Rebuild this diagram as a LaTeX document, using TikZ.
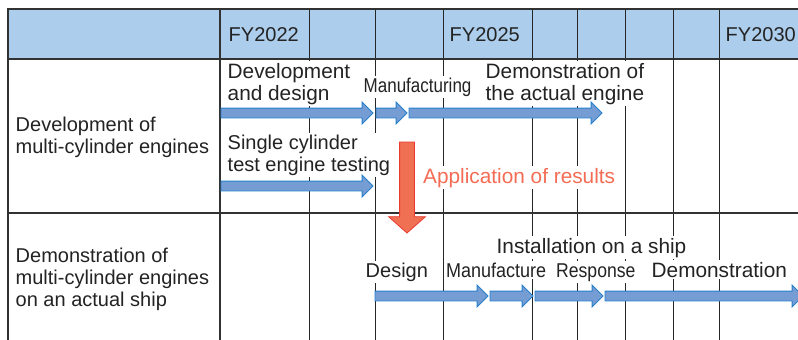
\documentclass[tikz,border=0pt]{standalone}
\usepackage{fontspec}
\setmainfont{Liberation Sans}
\usetikzlibrary{positioning}
\usetikzlibrary{shapes.arrows}

\definecolor{hdrblue}{RGB}{172,205,235}
\definecolor{barfill}{RGB}{118,157,211}
\definecolor{barline}{RGB}{38,128,204}
\definecolor{resfill}{RGB}{240,112,84}
\definecolor{resline}{RGB}{232,58,48}
\definecolor{restext}{RGB}{244,108,84}
\definecolor{txt}{RGB}{35,35,35}
\definecolor{framegray}{RGB}{50,50,50}

% squeezed lettering for the short task names
\newcommand{\narrow}[2][0.9]{\scalebox{#1}[1]{#2}}

\begin{document}
\begin{tikzpicture}[x=1pt,y=-1pt,
  frameline/.style={framegray, line width=1.8pt},
  gridline/.style={black!85, line width=0.9pt},
  year/.style={anchor=base west, inner sep=2pt, text=txt, font=\fontsize{20}{21.5}\selectfont},
  rowtitle/.style={anchor=base west, inner sep=2pt, text=txt, align=left, font=\fontsize{20}{22}\selectfont},
  task/.style={anchor=base west, inner sep=2pt, fill=white, text=txt, align=left, font=\fontsize{20}{21.5}\selectfont},
  bigtask/.style={task, font=\fontsize{20.8}{21.5}\selectfont},
  bar/.style={single arrow, anchor=tail, draw=barline, fill=barfill, line width=0.8pt,
    inner xsep=0pt, inner ysep=4.5pt, outer sep=0pt, single arrow head extend=6pt},
  resarrow/.style={single arrow, anchor=tail, draw=resline, fill=resfill, line width=0.8pt,
    inner xsep=0pt, inner ysep=7pt, outer sep=0pt, single arrow head extend=11pt,
    single arrow tip angle=97},
]
\useasboundingbox (0,0) rectangle (798,340);
\clip (0,0) rectangle (798,340);
\fill[white] (0,0) rectangle (798,340);

% header band
\fill[hdrblue] (8,9) rectangle (798,59);

% year columns
\foreach \x in {309,375.5,443,532,577,625,673,719}
  \draw[gridline] (\x,9) -- (\x,340);

% table frame
\draw[frameline] (8,340) -- (8,9) -- (798,9);
\draw[frameline] (8,59) -- (798,59);
\draw[frameline] (8,213) -- (798,213);
\draw[frameline] (220,9) -- (220,340);

% years
\node[year] (fy22) at (226.5,41) {FY2022};
\node[year] (fy25) at (447.5,41) {FY2025};
\node[year] (fy30) at (723.5,41) {FY2030};

% row titles (base = last line)
\node[rowtitle] (rowdev) at (13.5,153) {Development of\\multi-cylinder engines};
\node[rowtitle] (rowship) at (13.5,306) {Demonstration of\\multi-cylinder engines\\on an actual ship};

% first row: engine development
\node[bigtask] (tdesign) at (225.5,100) {Development\\and design};
\node[task] (tmanuf) at (361.5,92) {\narrow[0.85]{Manufacturing}};
\node[bigtask] (tdemo) at (483.5,100) {Demonstration of\\the actual engine};
\node[task] (tsingle) at (225.5,171) {Single cylinder\\test engine testing};
\node[bigtask, text=restext] (tapply) at (421,183) {Application of results};

\node[bar, minimum height=152pt] (bdesign) at (221,113) {};
\node[bar, minimum height=31pt] (bmanuf) at (376,113) {};
\node[bar, minimum height=193pt] (bdemo) at (409,113) {};
\node[bar, minimum height=152pt] (bsingle) at (221,186) {};

% results handed down to the ship row
\node[resarrow, rotate=-90, minimum height=91pt] (bapply) at (407,142) {};

% second row: on board
\node[bigtask] (tinstall) at (494.5,253) {Installation on a ship};
\node[task] (tsdesign) at (363.5,277) {Design};
\node[task] (tsmanuf) at (444,277) {\narrow{Manufacture}};
\node[task] (tresp) at (554,277) {\narrow[0.88]{Response}};
\node[bigtask] (tsdemo) at (649.5,277) {Demonstration};

\node[bar, minimum height=113pt] (bsdesign) at (375,296) {};
\node[bar, minimum height=43pt] (bsmanuf) at (490,296) {};
\node[bar, minimum height=68pt] (bresp) at (535,296) {};
\node[bar, minimum height=198pt] (bsdemo) at (605,296) {};
\end{tikzpicture}
\end{document}
